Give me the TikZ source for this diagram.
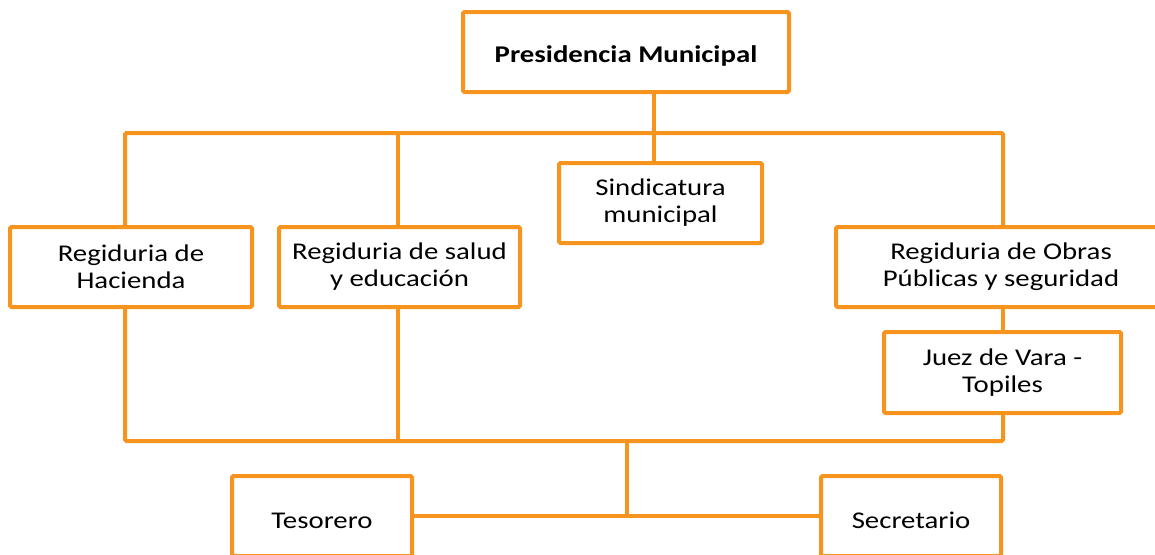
\documentclass[tikz,border=0pt]{standalone}
\usepackage{fontspec}
\setmainfont{Carlito}[FakeStretch=1.2]
\definecolor{naranja}{RGB}{247,148,30}
\tikzset{
  caja/.style={draw=naranja, line width=4pt, rounded corners=1.5pt, fill=white,
    align=center, inner sep=0pt, font=\fontsize{24}{27}\selectfont,
    execute at begin node={\rule{0pt}{25pt}}},
  linea/.style={draw=naranja, line width=4pt, rounded corners=1.5pt}
}
\begin{document}
\begin{tikzpicture}[x=1pt,y=-1pt]
\useasboundingbox (0,0) rectangle (1155,554);
\clip (0,0) rectangle (1155,554);
\fill[white] (0,0) rectangle (1155,554);
\node[caja, minimum width=326pt, minimum height=80pt] (pres) at (626,52) {\textbf{Presidencia Municipal}};
\node[caja, minimum width=242pt, minimum height=80pt] (hac) at (131,267) {Regiduria de\\Hacienda};
\node[caja, minimum width=241pt, minimum height=80pt] (sal) at (399.5,267) {Regiduria de salud\\y educación};
\node[caja, minimum width=203pt, minimum height=80pt] (sin) at (660.5,203) {Sindicatura\\municipal};
\node[caja, minimum width=330pt, minimum height=80pt] (obr) at (1001,267) {Regiduria de Obras\\Públicas y seguridad};
\node[caja, minimum width=237pt, minimum height=81pt] (juez) at (1002.5,372.5) {Juez de Vara -\\Topiles};
\node[caja, minimum width=180pt, minimum height=80pt] (tes) at (322,516) {Tesorero};
\node[caja, minimum width=180pt, minimum height=80pt] (sec) at (911,516) {Secretario};
\coordinate (t1) at (125,133);
\coordinate (t2) at (398,133);
\coordinate (t3) at (654,133);
\coordinate (t4) at (1003,133);
\coordinate (b1) at (125,441);
\coordinate (b2) at (398,441);
\coordinate (bm) at (627,441);
\coordinate (b4) at (1003,441);
\draw[linea] (pres.south -| t3) -- (t3);
\draw[linea] (t1 |- hac.north) |- (t4) -- (t4 |- obr.north);
\draw[linea] (t2) -- (t2 |- sal.north);
\draw[linea] (t3) -- (t3 |- sin.north);
\draw[linea] (obr.south -| t4) -- (t4 |- juez.north);
\draw[linea] (b1 |- hac.south) |- (b4) -- (b4 |- juez.south);
\draw[linea] (b2 |- sal.south) -- (b2);
\draw[linea] (bm) -- (bm |- tes.east);
\draw[linea] (tes.east) -- (sec.west);
\end{tikzpicture}
\end{document}
